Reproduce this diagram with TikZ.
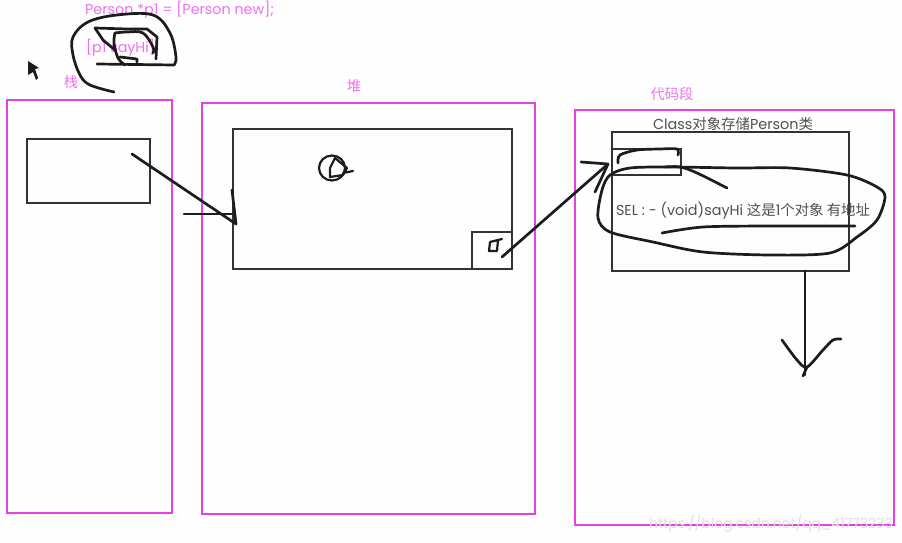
\documentclass[tikz,border=0pt]{standalone}
\usepackage{fontspec}
\setmainfont{Poppins}
\newfontfamily\cjk{Noto Sans CJK SC}
\definecolor{pinkline}{HTML}{E63FE6}
\definecolor{pinktext}{HTML}{F070F0}
\definecolor{ink}{HTML}{1C1C1C}
\definecolor{boxline}{HTML}{333333}
\definecolor{grayt}{HTML}{505050}
\tikzset{
  pinkbox/.style={draw=pinkline,line width=1.8pt},
  blackbox/.style={draw=boxline,line width=1.5pt},
  stroke/.style={draw=ink,line width=2.7pt,line cap=round,line join=round},
  thinstroke/.style={draw=ink,line width=2.2pt,line cap=round,line join=round},
  pinklabel/.style={text=pinktext,font=\fontsize{14.3}{16}\selectfont,inner sep=0pt},
  graylabel/.style={text=grayt,font=\fontsize{14.4}{16}\selectfont,inner sep=0pt},
  box/.style={minimum width=0pt,minimum height=0pt,inner sep=0pt,outer sep=0pt}
}
\newcommand{\boxat}[6]{\node[#1,box,anchor=north west,minimum width=#5pt-#3pt,minimum height=#6pt-#4pt] (#2) at (#3,#4) {};}
\begin{document}
\begin{tikzpicture}[x=1pt,y=-1pt]
\useasboundingbox (0,0) rectangle (902,543);
\fill[white!99!pink] (0,0) rectangle (902,543);
% regions
\boxat{pinkbox}{stack}{7}{100}{172}{513}
\boxat{pinkbox}{heap}{202}{103}{535}{514}
\boxat{pinkbox}{code}{575}{110}{894}{525}
\boxat{blackbox}{stackvar}{27}{139}{150}{203}
\boxat{blackbox}{obj}{233}{129}{512}{269}
\boxat{blackbox}{isa}{472}{232}{512}{269}
\boxat{blackbox}{cls}{612}{132}{849}{271}
\boxat{blackbox}{first}{612}{149}{681}{175}
% labels
\node[pinklabel,anchor=west] (code1) at (85,10) {Person *p1 = [Person new];};
\node[pinklabel,anchor=west] (code2) at (86,48) {[p1 sayHi];};
\node[pinklabel] (lstack) at (71,82) {\cjk 栈};
\node[pinklabel] (lheap) at (354,86) {\cjk 堆};
\node[pinklabel] (lcode) at (672,94) {\cjk 代码段};
\node[graylabel] (lcls) at (733,124) {Class{\cjk 对象存储}Person{\cjk 类}};
\node[graylabel] (lsel) at (743,211) {SEL : - (void)sayHi {\cjk 这是}1{\cjk 个对象 有地址}};
\node[text=black!12,font=\fontsize{14}{16}\selectfont,inner sep=0pt,anchor=east] (wm) at (893,524) {https://blog.csdn.net/qq\_41773233};
% top scribble
\draw[stroke] plot[smooth,tension=.6] coordinates {(114,92) (90,85) (80,75) (73,55) (73,37) (88,22) (117,15) (153,15) (170,33) (176,57) (174,65)} -- (97,64);
\draw[stroke] (95,28) -- (127,29) -- (147,29) -- (157,37) -- (156,59);
\draw[stroke] (95,28) -- (103,40) -- (115,50);
\draw[stroke] plot[smooth,tension=.6] coordinates {(115,33) (114,43) (118,58) (125,65)};
\draw[stroke] plot[smooth,tension=.6] coordinates {(115,33) (127,32) (143,33) (153,47) (153,53)};
\draw[stroke] (120,57) -- (137,59) -- (137,62);
% cursor
\fill[ink] (28,61) -- (28,75) -- (33,72) -- (36,80) -- (38,78) -- (35,69) -- (39,68) -- cycle;
% connector stack to heap
\coordinate (a1) at (132,154);
\coordinate (a2) at (236,224);
\coordinate (a3) at (184,214);
\coordinate (a4) at (232,214);
\coordinate (a5) at (232,190);
\draw[stroke] (a1) -- (a2) -- (a5);
\draw[thinstroke] (a3) -- (a4);
% object marks
\draw[thinstroke] (332,168) ellipse [x radius=13,y radius=12.5];
\draw[thinstroke] (335,158) -- (330,168) -- (330,177) -- (343,175) -- (347,168) -- cycle;
\draw[thinstroke] (343,173) -- (353,171);
\draw[thinstroke] (502,239) -- (498,240) -- (490,242) -- (489,251) -- (497,251) -- (498,240);
% connector isa to class
\coordinate (b1) at (502,257);
\coordinate (b2) at (608,164);
\draw[stroke] (b1) -- (b2);
\draw[stroke] (581,162) -- (b2) -- (595,192);
% class scribbles
\draw[stroke] plot[smooth,tension=.5] coordinates {(618,163) (620,155) (637,150) (660,149) (677,149) (678,155)};
\draw[stroke] plot[smooth,tension=.6] coordinates {(665,167) (680,167) (697,173) (727,188)};
\draw[stroke] plot[smooth cycle,tension=.5] coordinates {(610,175) (630,168) (670,167) (737,168) (790,168) (847,175) (877,187) (885,197) (877,220) (857,237) (830,253) (770,255) (703,252) (653,242) (610,232) (598,218) (602,190)};
\draw[stroke] plot[smooth,tension=.5] coordinates {(662,233) (703,227) (770,226) (855,226)};
% arrow down
\coordinate (c1) at (805,271);
\coordinate (c2) at (805,375);
\draw[thinstroke] (c1) -- (c2);
\draw[stroke] plot[smooth,tension=.5] coordinates {(782,340) (797,360) (807,367) (823,350) (833,340) (841,339)};
\draw[stroke] (807,367) -- (803,376);
\end{tikzpicture}
\end{document}
